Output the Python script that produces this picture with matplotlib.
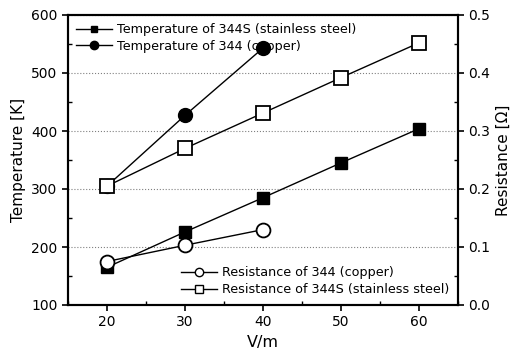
import matplotlib
matplotlib.use("Agg")
import matplotlib.pyplot as plt
from matplotlib.ticker import MultipleLocator
from matplotlib.lines import Line2D

plt.rcParams['font.family'] = ['DejaVu Sans']

x_ss = [20, 30, 40, 50, 60]
temp_ss = [165, 226, 285, 345, 404]
x_cu = [20, 30, 40]
temp_cu = [305, 427, 543]
res_cu = [0.075, 0.103, 0.130]
res_ss = [0.205, 0.270, 0.331, 0.392, 0.452]

fig = plt.figure(figsize=(5.11, 3.62), dpi=100)
ax = fig.add_axes([68/511, 57/362, 390/511, 290/362])
ax2 = ax.twinx()

lw = 1.0
ax.plot(x_ss, temp_ss, '-', color='black', marker='s', ms=9, mfc='black', mec='black', lw=lw, zorder=3)
ax.plot(x_cu, temp_cu, '-', color='black', marker='o', ms=10, mfc='black', mec='black', lw=lw, zorder=3)
ax2.plot(x_cu, res_cu, '-', color='black', marker='o', ms=10, mfc='white', mec='black', mew=1.3, lw=lw, zorder=3)
ax2.plot(x_ss, res_ss, '-', color='black', marker='s', ms=10, mfc='white', mec='black', mew=1.3, lw=lw, zorder=3)

ax.set_xlim(15, 65)
ax.set_ylim(100, 600)
ax2.set_ylim(0.0, 0.5)
ax.set_xticks([20, 30, 40, 50, 60])
ax.xaxis.set_minor_locator(MultipleLocator(5))
ax.set_yticks([100, 200, 300, 400, 500, 600])
ax.yaxis.set_minor_locator(MultipleLocator(50))
ax2.set_yticks([0.0, 0.1, 0.2, 0.3, 0.4, 0.5])
ax2.yaxis.set_minor_locator(MultipleLocator(0.05))
ax2.set_yticklabels(['0.0', '0.1', '0.2', '0.3', '0.4', '0.5'])

for a in (ax, ax2):
    a.tick_params(which='major', direction='out', length=4, width=1.2, labelsize=10)
    a.tick_params(which='minor', direction='in', length=3, width=1.0)
    for s in a.spines.values():
        s.set_linewidth(1.5)

ax.grid(axis='y', which='major', linestyle=':', color='gray', lw=0.8)

ax.set_xlabel('V/m', fontsize=11.5)
ax.set_ylabel('Temperature [K]', fontsize=11)
ax2.set_ylabel('Resistance [Ω]', fontsize=11)

h1 = [Line2D([], [], color='black', marker='s', ms=5, mfc='black', lw=lw),
      Line2D([], [], color='black', marker='o', ms=6, mfc='black', lw=lw)]
leg1 = ax2.legend(h1, ['Temperature of 344S (stainless steel)', 'Temperature of 344 (copper)'],
                  loc='upper left', frameon=False, fontsize=9.2, handlelength=2.8,
                  borderaxespad=0.25, labelspacing=0.25, handletextpad=0.4)
ax2.add_artist(leg1)
h2 = [Line2D([], [], color='black', marker='o', ms=6, mfc='white', lw=lw),
      Line2D([], [], color='black', marker='s', ms=6, mfc='white', lw=lw)]
ax2.legend(h2, ['Resistance of 344 (copper)', 'Resistance of 344S (stainless steel)'],
           loc='lower right', frameon=False, fontsize=9.2, handlelength=2.8,
           borderaxespad=0.3, labelspacing=0.3, handletextpad=0.4)

fig.savefig('out.png', dpi=100)
